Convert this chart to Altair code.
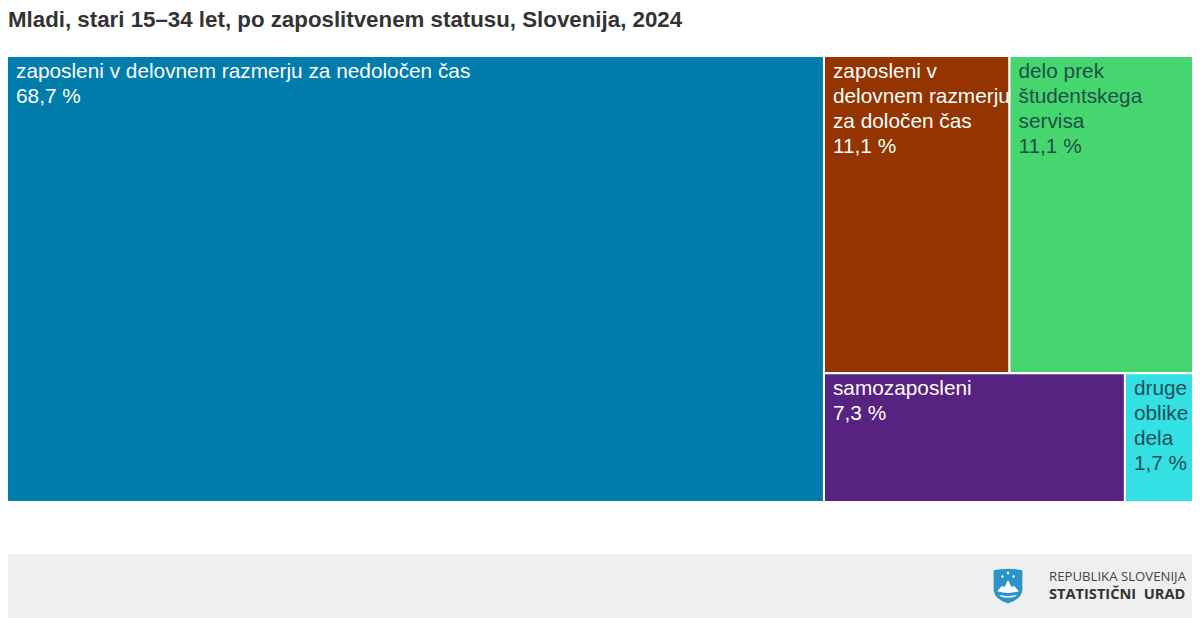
import altair as alt
import pandas as pd

TITLE = "Mladi, stari 15–34 let, po zaposlitvenem statusu, Slovenija, 2024"
labels = [
    "zaposleni v delovnem razmerju za nedoločen čas",
    "zaposleni v\ndelovnem razmerju\nza določen čas",
    "delo prek\nštudentskega\nservisa",
    "samozaposleni",
    "druge\noblike\ndela",
]
values = [68.7, 11.1, 11.1, 7.3, 1.7]
colors = ["#007dac", "#943400", "#45d670", "#582280", "#33e0e3"]
text_colors = ["#ffffff", "#ffffff", "#1f4f45", "#ffffff", "#1f4f55"]
value_labels = ["68,7 %", "11,1 %", "11,1 %", "7,3 %", "1,7 %"]

total = sum(values)
rest = total - values[0]
top = values[1] + values[2]
bottom = values[3] + values[4]
top_h = total * top / rest
# treemap slices in value units: full square of side `total`
boxes = [
    (0, values[0], 0, total),
    (values[0], values[0] + rest * values[1] / top, 0, top_h),
    (values[0] + rest * values[1] / top, total, 0, top_h),
    (values[0], values[0] + rest * values[3] / bottom, top_h, total),
    (values[0] + rest * values[3] / bottom, total, top_h, total),
]
df = pd.DataFrame({
    "label": [f"{l}\n{v}" for l, v in zip(labels, value_labels)],
    "x0": [b[0] for b in boxes], "x1": [b[1] for b in boxes],
    "y0": [b[2] for b in boxes], "y1": [b[3] for b in boxes],
    "fill": colors, "ink": text_colors,
})

xs = alt.Scale(domain=[0, total], range=[-1, 1187], nice=False, zero=False)
ys = alt.Scale(domain=[0, total], range=[-1, 445], nice=False, zero=False)
X = alt.X("x0:Q", scale=xs, axis=None)
Y = alt.Y("y0:Q", scale=ys, axis=None)

rects = alt.Chart(df).mark_rect(stroke="white", strokeWidth=2).encode(
    x=X, x2="x1:Q", y=Y, y2="y1:Q", fill=alt.Fill("fill:N", scale=None))
texts = alt.Chart(df).mark_text(
    align="left", baseline="top", dx=9, dy=6, font="Liberation Sans",
    fontSize=20.8, lineBreak="\n", lineHeight=25, clip=False,
).encode(x=X, y=Y, text="label:N", color=alt.Color("ink:N", scale=None))

one = pd.DataFrame({"a": [0]})
band = alt.Chart(one).mark_rect(color="#efefef").encode(
    x=alt.value(0), x2=alt.value(1184), y=alt.value(497), y2=alt.value(561))
shield = alt.Chart(one).mark_point(
    shape="M-0.82,-0.9 Q0,-1.08 0.82,-0.9 L0.82,0.25 Q0.75,0.75 0,1 Q-0.75,0.75 -0.82,0.25 Z",
    size=1225, filled=True, color="#2a93c9", opacity=1,
).encode(x=alt.value(1000), y=alt.value(529))
peak = alt.Chart(one).mark_point(
    shape=("M-0.62,0.3 L-0.35,0 L-0.2,0.05 L0,-0.35 L0.2,0.05 L0.35,0 L0.62,0.3 Q0,0.5 -0.62,0.3 Z "
           "M-0.5,0.5 Q0,0.65 0.5,0.5 L0.4,0.6 Q0,0.75 -0.4,0.6 Z "
           "M0,-0.85 L0.08,-0.75 L0,-0.65 L-0.08,-0.75 Z "
           "M-0.32,-0.65 L-0.24,-0.55 L-0.32,-0.45 L-0.4,-0.55 Z "
           "M0.32,-0.65 L0.4,-0.55 L0.32,-0.45 L0.24,-0.55 Z"),
    size=1225, filled=True, color="#ffffff", opacity=1,
).encode(x=alt.value(1000), y=alt.value(529))
logo1 = alt.Chart(pd.DataFrame({"t": ["REPUBLIKA SLOVENIJA"]})).mark_text(
    align="left", baseline="middle", font="Open Sans", fontSize=13.2, color="#444444"
).encode(x=alt.value(1041), y=alt.value(520), text="t:N")
logo2 = alt.Chart(pd.DataFrame({"t": ["STATISTIČNI\u00a0\u00a0URAD"]})).mark_text(
    align="left", baseline="middle", font="Open Sans", fontSize=14.6, fontWeight="bold", color="#333333"
).encode(x=alt.value(1041), y=alt.value(538), text="t:N")

chart = alt.layer(rects, texts, band, shield, peak, logo1, logo2).properties(
    width=1184, height=444,
    autosize=alt.AutoSizeParams(type="none"),
    padding={"left": 0, "top": 49, "right": 0, "bottom": 117},
    title=alt.TitleParams(TITLE, anchor="start", frame="group", font="Liberation Sans",
                          fontSize=22.3, fontWeight="bold", color="#333333", offset=24),
).configure_view(stroke=None)

chart.save("out.html", embed_options={"renderer": "svg", "actions": False})
